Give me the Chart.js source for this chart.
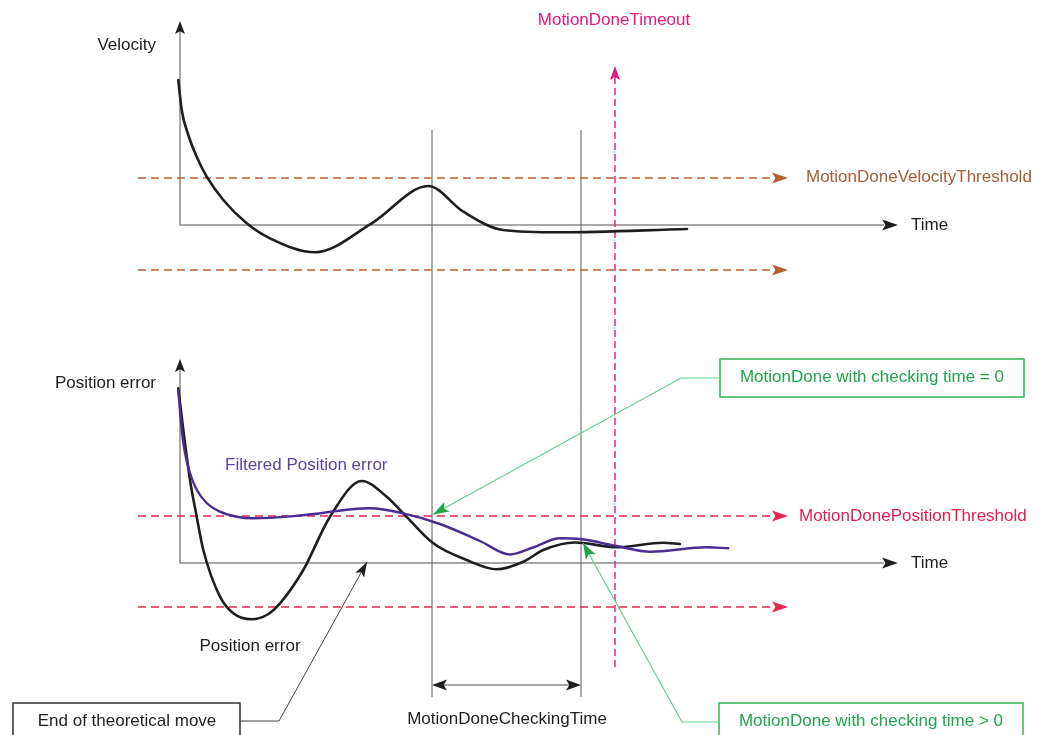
<!DOCTYPE html>
<html>
<head>
<meta charset="utf-8">
<script src="https://cdn.jsdelivr.net/npm/chart.js@4/dist/chart.umd.min.js"></script>
<style>
  html, body { margin: 0; padding: 0; background: #fff; }
  canvas { display: block; }
</style>
</head>
<body>
<canvas id="diagram" width="1049" height="735"></canvas>
<script>
// --- data (time in arbitrary units, values relative to each panel's time axis) ---
var velTime  = [-0.17, 0.17, 0.83, 1.67, 2.67, 4.33, 6.67, 9.0, 13.5, 19.17, 24.83, 28.33, 32.3, 38.0, 50.7];
var velValue = [14.5, 11.5, 9.0, 6.83, 4.83, 2.5, 0.17, -1.33, -2.73, 0.17, 3.9, 1.33, -0.5, -0.73, -0.4];

var posTime  = [-0.17, 0.33, 1.0, 1.67, 2.33, 4.0, 5.33, 7.17, 8.67, 10.0, 12.33, 15.0, 18.17, 20.67, 22.33, 25.33, 28.67, 31.67, 34.33, 36.33, 39.5, 43.67, 48.33, 50.0];
var posValue = [17.47, 13.3, 8.3, 4.63, 1.3, -3.37, -5.03, -5.63, -5.2, -4.03, -0.7, 4.63, 8.2, 6.63, 4.97, 1.97, 0.3, -0.63, 0.13, 1.3, 2.05, 1.57, 2.03, 1.9];

var filtTime  = [-0.17, 0.17, 0.5, 1.0, 1.67, 2.67, 4.0, 5.67, 7.33, 12.0, 19.0, 22.33, 26.0, 30.0, 33.0, 35.3, 38.0, 40.17, 43.67, 47.0, 52.67, 54.83];
var filtValue = [17.3, 13.3, 11.0, 9.0, 7.33, 6.0, 5.13, 4.63, 4.47, 4.75, 5.47, 4.97, 3.9, 2.2, 0.85, 1.55, 2.47, 2.37, 1.7, 1.13, 1.57, 1.47];

var velThresholds = [4.7, -4.5];
var posThresholds = [4.7, -4.4];
var thresholdSpan = [-4.2, 59.6];

var checkStart = 25.2;
var checkEnd = 40.1;
var timeoutTime = 43.5;

var axisLabels = ['Velocity', 'Position error', 'Time'];

// --- colours and layout ---
var black = '#1e1e1e';
var axisGray = '#8a8a8a';
var pink = '#e4197d';
var brownText = '#a35f35';
var brownDash = '#b9602f';
var redText = '#e41e4a';
var redDash = '#e8264f';
var purple = '#4b2c93';
var purpleText = '#5d43a0';
var greenText = '#1fa64b';
var greenBox = '#2cb457';
var greenLine = '#63cf8e';
var FONT = '17px "Liberation Sans", Arial, sans-serif';

function xy(ts, vs) {
    return ts.map(function(t, i) { return {x: t, y: vs[i]}; });
}

function curve(data, axis, color, width) {
    return {
        data: data, yAxisID: axis, borderColor: color, borderWidth: width,
        pointRadius: 0, cubicInterpolationMode: 'monotone', fill: false,
        borderCapStyle: 'round', borderJoinStyle: 'round'
    };
}

function dashed(value, axis, color) {
    return {
        data: [{x: thresholdSpan[0], y: value}, {x: thresholdSpan[1], y: value}],
        yAxisID: axis, borderColor: color, borderWidth: 1.4,
        borderDash: [8, 5], pointRadius: 0, fill: false
    };
}

function arrowHead(ctx, x, y, angle, len, half, color) {
    ctx.save();
    ctx.translate(x, y);
    ctx.rotate(angle);
    ctx.fillStyle = color;
    ctx.beginPath();
    ctx.moveTo(0, 0);
    ctx.lineTo(-len, -half);
    ctx.lineTo(-len * 0.78, 0);
    ctx.lineTo(-len, half);
    ctx.closePath();
    ctx.fill();
    ctx.restore();
}

function line(ctx, pts, color, width, dash) {
    ctx.save();
    ctx.strokeStyle = color;
    ctx.lineWidth = width;
    ctx.setLineDash(dash || []);
    ctx.beginPath();
    pts.forEach(function(p, i) { if (i === 0) ctx.moveTo(p[0], p[1]); else ctx.lineTo(p[0], p[1]); });
    ctx.stroke();
    ctx.restore();
}

function text(ctx, str, x, y, align, color) {
    ctx.save();
    ctx.font = FONT;
    ctx.fillStyle = color || black;
    ctx.textAlign = align || 'left';
    ctx.textBaseline = 'middle';
    ctx.fillText(str, x, y);
    ctx.restore();
}

var diagramPlugin = {
    id: 'diagram',
    beforeDatasetsDraw: function(chart) {
        var ctx = chart.ctx;
        var X = function(t) { return chart.scales.x.getPixelForValue(t); };
        var V = function(v) { return chart.scales.yv.getPixelForValue(v); };
        var P = function(v) { return chart.scales.yp.getPixelForValue(v); };

        // axes of both panels
        [V, P].forEach(function(Y) {
            line(ctx, [[X(0), Y(19.6)], [X(0), Y(0)], [X(70.4), Y(0)]], axisGray, 1.5);
            arrowHead(ctx, X(0), Y(20.4), -Math.PI / 2, 13, 5, black);
            arrowHead(ctx, X(71.8), Y(0), 0, 16, 5.5, black);
        });

        // end of move / end of checking time markers
        [checkStart, checkEnd].forEach(function(t) {
            line(ctx, [[X(t), V(9.5)], [X(t), V(-47.2)]], '#5a5a5a', 1);
        });

        // checking time span
        var yc = P(-12.2);
        line(ctx, [[X(checkStart) + 8, yc], [X(checkEnd) - 8, yc]], axisGray, 1.5);
        arrowHead(ctx, X(checkStart), yc, Math.PI, 15, 5.5, black);
        arrowHead(ctx, X(checkEnd), yc, 0, 15, 5.5, black);

        // timeout marker
        line(ctx, [[X(timeoutTime), V(-44.2)], [X(timeoutTime), V(14.8)]], pink, 1.4, [7, 4]);
        arrowHead(ctx, X(timeoutTime), V(15.9), -Math.PI / 2, 14, 5, pink);
    },
    afterDatasetsDraw: function(chart) {
        var ctx = chart.ctx;
        var X = function(t) { return chart.scales.x.getPixelForValue(t); };
        var V = function(v) { return chart.scales.yv.getPixelForValue(v); };
        var P = function(v) { return chart.scales.yp.getPixelForValue(v); };

        // threshold arrowheads
        velThresholds.forEach(function(v) { arrowHead(ctx, X(60.8), V(v), 0, 16, 5.5, brownDash); });
        posThresholds.forEach(function(v) { arrowHead(ctx, X(60.8), P(v), 0, 16, 5.5, redDash); });

        // axis titles
        text(ctx, axisLabels[0], X(-2.4), V(18.0), 'right');
        text(ctx, axisLabels[2], X(73.1), V(0), 'left');
        text(ctx, axisLabels[1], X(-2.4), P(18.0), 'right');
        text(ctx, axisLabels[2], X(73.1), P(0), 'left');

        // series and threshold names
        text(ctx, 'MotionDoneTimeout', X(43.4), V(20.5), 'center', pink);
        text(ctx, 'MotionDoneVelocityThreshold', X(62.6), V(4.8), 'left', brownText);
        text(ctx, 'MotionDonePositionThreshold', X(61.9), P(4.7), 'left', redText);
        text(ctx, 'Filtered Position error', X(4.5), P(9.8), 'left', purpleText);
        text(ctx, 'Position error', X(7.0), P(-8.3), 'center');
        text(ctx, 'MotionDoneCheckingTime', X(32.7), P(-15.6), 'center');

        // callout boxes
        ctx.save();
        ctx.strokeStyle = greenBox; ctx.lineWidth = 1.5;
        ctx.strokeRect(X(54.0), P(20.4), X(84.4) - X(54.0), P(16.6) - P(20.4));
        ctx.strokeRect(X(53.9), P(-14.0), X(84.3) - X(53.9), P(-17.8) - P(-14.0));
        ctx.strokeStyle = '#333';
        ctx.strokeRect(X(-16.7), P(-14.0), X(6.0) - X(-16.7), P(-17.8) - P(-14.0));
        ctx.restore();

        var tip1 = [X(25.3), P(4.85)], elbow1 = [X(50.1), P(18.5)];
        line(ctx, [[X(54.0), P(18.5)], elbow1, tip1], greenLine, 1.2);
        arrowHead(ctx, tip1[0], tip1[1], Math.atan2(tip1[1] - elbow1[1], tip1[0] - elbow1[0]), 16, 5.5, greenText);
        text(ctx, 'MotionDone with checking time = 0', X(69.2), P(18.55), 'center', greenText);

        var tip2 = [X(40.3), P(2.0)], elbow2 = [X(50.2), P(-15.9)];
        line(ctx, [[X(53.9), P(-15.9)], elbow2, tip2], greenLine, 1.2);
        arrowHead(ctx, tip2[0], tip2[1], Math.atan2(tip2[1] - elbow2[1], tip2[0] - elbow2[0]), 16, 5.5, greenText);
        text(ctx, 'MotionDone with checking time > 0', X(69.1), P(-15.8), 'center', greenText);

        var tip3 = [X(18.7), P(0.1)], elbow3 = [X(9.9), P(-15.8)];
        line(ctx, [[X(6.0), P(-15.8)], elbow3, tip3], '#444', 1);
        arrowHead(ctx, tip3[0], tip3[1], Math.atan2(tip3[1] - elbow3[1], tip3[0] - elbow3[0]), 15, 5, black);
        text(ctx, 'End of theoretical move', X(-5.3), P(-15.8), 'center');
    }
};

var datasets = [
    curve(xy(velTime, velValue), 'yv', black, 2.6),
    curve(xy(filtTime, filtValue), 'yp', purple, 2.4),
    curve(xy(posTime, posValue), 'yp', black, 2.6),
    dashed(velThresholds[0], 'yv', brownDash),
    dashed(velThresholds[1], 'yv', brownDash),
    dashed(posThresholds[0], 'yp', redDash),
    dashed(posThresholds[1], 'yp', redDash)
];

// type 'line' (not scatter) so the curve control points are actually computed
new Chart(document.getElementById('diagram'), {
    type: 'line',
    data: {datasets: datasets},
    options: {
        responsive: false,
        animation: false,
        devicePixelRatio: 1,
        layout: {padding: 0},
        plugins: {legend: {display: false}, tooltip: {enabled: false}, title: {display: false}},
        scales: {
            x: {type: 'linear', min: -18, max: 86.9, display: false},
            yv: {type: 'linear', min: -51, max: 22.5, display: false},
            yp: {type: 'linear', min: -17.2, max: 56.3, display: false}
        }
    },
    plugins: [diagramPlugin]
});
</script>
</body>
</html>
